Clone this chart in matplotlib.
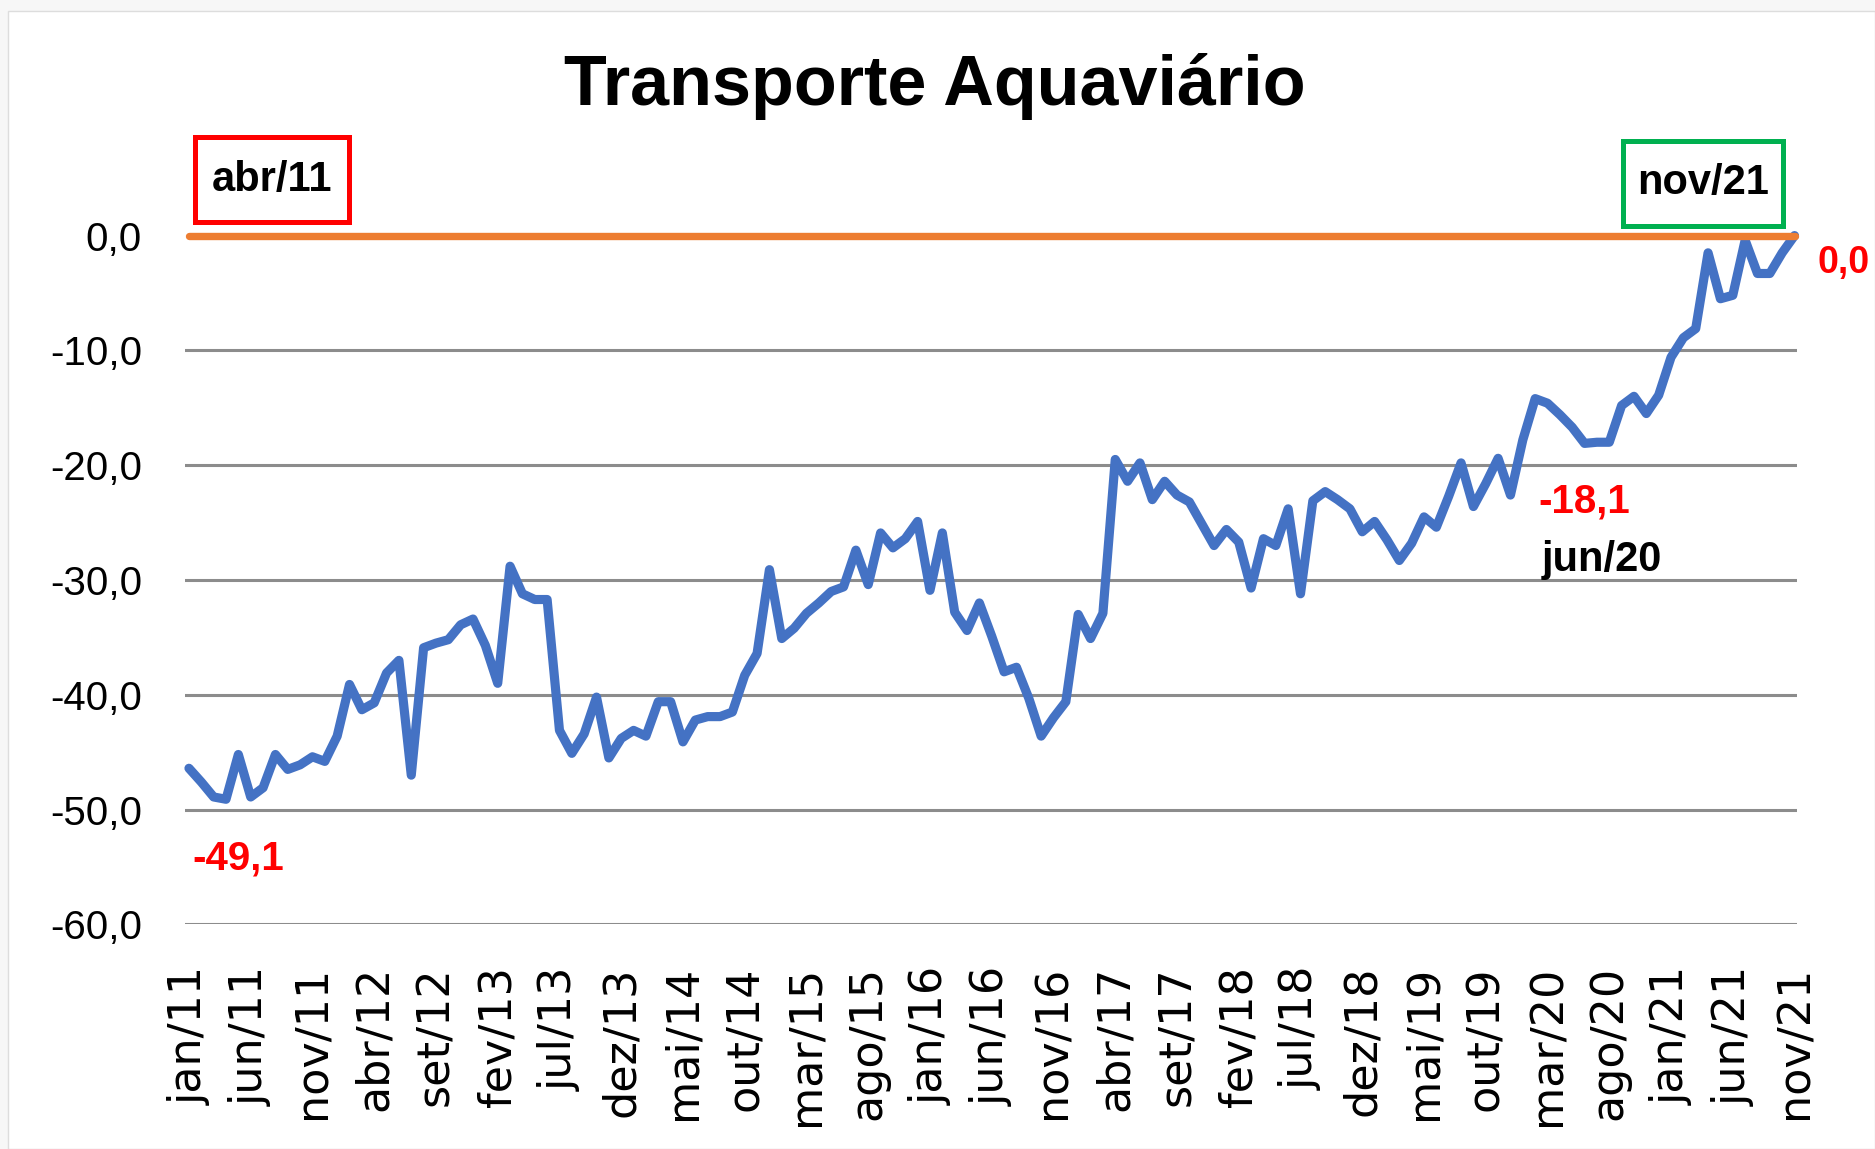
import matplotlib
matplotlib.use("Agg")
import matplotlib.pyplot as plt
from matplotlib import font_manager
from matplotlib.patches import Rectangle

# ---------------- data ----------------
values = [
    -46.4, -47.6, -48.9, -49.1, -45.2, -48.9, -48.1, -45.2, -46.5, -46.1,
    -45.4, -45.8, -43.6, -39.1, -41.3, -40.7, -38.1, -37.0, -47.0, -35.9,
    -35.5, -35.2, -33.9, -33.4, -35.7, -39.0, -28.8, -31.2, -31.7, -31.7,
    -43.1, -45.1, -43.4, -40.2, -45.5, -43.8, -43.1, -43.6, -40.6, -40.6,
    -44.1, -42.2, -41.9, -41.9, -41.5, -38.3, -36.4, -29.1, -35.1, -34.2,
    -32.9, -32.0, -31.0, -30.6, -27.4, -30.4, -25.9, -27.2, -26.4, -24.9,
    -30.9, -25.9, -32.8, -34.4, -32.0, -34.9, -38.0, -37.6, -40.3, -43.6,
    -42.0, -40.6, -33.0, -35.1, -32.9, -19.5, -21.4, -19.8, -23.0, -21.4,
    -22.6, -23.2, -25.1, -27.0, -25.6, -26.7, -30.7, -26.4, -27.0, -23.8,
    -31.2, -23.1, -22.3, -23.0, -23.8, -25.8, -24.9, -26.5, -28.3, -26.8,
    -24.5, -25.4, -22.7, -19.8, -23.6, -21.6, -19.4, -22.6, -17.8, -14.2,
    -14.6, -15.6, -16.7, -18.1, -18.0, -18.0, -14.8, -14.0, -15.5, -13.9,
    -10.6, -8.9, -8.1, -1.5, -5.5, -5.2, -0.4, -3.3, -3.3, -1.5,
    0.0,
]
zero_line = [0.0] * len(values)
tick_labels = [
    "jan/11", "jun/11", "nov/11", "abr/12", "set/12", "fev/13", "jul/13",
    "dez/13", "mai/14", "out/14", "mar/15", "ago/15", "jan/16", "jun/16",
    "nov/16", "abr/17", "set/17", "fev/18", "jul/18", "dez/18", "mai/19",
    "out/19", "mar/20", "ago/20", "jan/21", "jun/21", "nov/21",
]
tick_step = 5
y_ticks = [0, -10, -20, -30, -40, -50, -60]
title = "Transporte Aquaviário"
min_label, min_idx = "-49,1", 3
mid_label, mid_date, mid_idx = "-18,1", "jun/20", 113
last_label = "0,0"
start_box, end_box = "abr/11", "nov/21"

# ---------------- fonts ----------------
names = {f.name for f in font_manager.fontManager.ttflist}
if "Liberation Sans Narrow" in names:
    NARROW, k = "Liberation Sans Narrow", 1.0 / 0.84
else:
    NARROW, k = "Liberation Sans", 1.0

BLUE = "#4472C4"
ORANGE = "#ED7D31"
GRID = "#8C8C8C"

fig = plt.figure(figsize=(18.75, 11.49), dpi=100)
fig.patch.set_facecolor("#F7F7F7")
# white chart area with thin border
fig.patches.append(Rectangle((8 / 1875, 0.0), 1 - 8 / 1875, 1 - 11 / 1149,
                             transform=fig.transFigure, facecolor="white",
                             edgecolor="#DDDDDD", linewidth=1.0, zorder=-5))

ax = fig.add_axes([185 / 1875, 1 - 924.4 / 1149, (1797 - 185) / 1875, (924.4 - 235.6) / 1149])
ax.set_zorder(2)
ax.set_facecolor("none")

x = list(range(len(values)))
ax.plot(x, values, color=BLUE, lw=6.6, solid_joinstyle="round", solid_capstyle="round",
        zorder=3, clip_on=False)
ax.plot(x, zero_line, color=ORANGE, lw=5.3, solid_capstyle="round", zorder=4, clip_on=False)

ax.set_xlim(-0.32, 130.2)
ax.set_ylim(-60, 0)
for yv in y_ticks[1:]:
    ax.axhline(yv, color=GRID, lw=2.2, zorder=1)

ax.set_yticks(y_ticks)
ax.set_yticklabels([f"{v:.1f}".replace(".", ",") for v in y_ticks],
                   fontfamily=NARROW, fontsize=29 * k)
ax.set_xticks(x[::tick_step])
ax.set_xticklabels(tick_labels, rotation=90, fontfamily="DejaVu Sans", fontsize=32)
ax.tick_params(axis="both", length=0)
ax.tick_params(axis="y", pad=31)
ax.tick_params(axis="x", pad=30)
for s in ax.spines.values():
    s.set_visible(False)

# title
fig.text(935 / 1875, 1 - 86 / 1149, title, ha="center", va="center",
         fontfamily=NARROW, fontweight="bold", fontsize=50.5 * k)

# boxes
ax.add_patch(Rectangle((0.49, 1.18), 12.47, 7.4, fill=True, facecolor="white",
                       edgecolor="#FF0000", lw=3.6, clip_on=False, zorder=5))
ax.text(6.7, 4.84, start_box, ha="center", va="center", fontfamily=NARROW,
        fontweight="bold", fontsize=30 * k, zorder=6, clip_on=False)
ax.add_patch(Rectangle((116.1, 0.84), 13.0, 7.4, fill=True, facecolor="white",
                       edgecolor="#00B050", lw=3.6, clip_on=False, zorder=5))
ax.text(122.6, 4.58, end_box, ha="center", va="center", fontfamily=NARROW,
        fontweight="bold", fontsize=30 * k, zorder=6, clip_on=False)

# value labels
ax.text(min_idx + 1.0, values[min_idx] - 5.2, min_label, ha="center", va="center",
        color="#FF0000", fontfamily=NARROW, fontweight="bold", fontsize=29 * k)
ax.text(mid_idx, values[mid_idx] - 5.1, mid_label, ha="center", va="center",
        color="#FF0000", fontfamily=NARROW, fontweight="bold", fontsize=29 * k)
ax.text(mid_idx + 1.4, values[mid_idx] - 10.2, mid_date, ha="center", va="center",
        color="black", fontfamily=NARROW, fontweight="bold", fontsize=30 * k)
ax.text(len(values) + 3.0, values[-1] - 2.4, last_label, ha="center", va="center",
        color="#FF0000", fontfamily=NARROW, fontweight="bold", fontsize=27 * k,
        clip_on=False)

fig.savefig("out.png", dpi=100, facecolor=fig.get_facecolor())
